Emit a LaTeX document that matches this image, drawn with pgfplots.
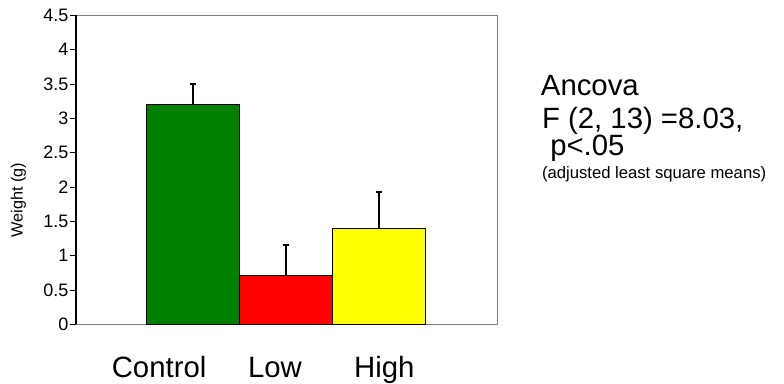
\documentclass[border=0pt]{standalone}
\usepackage{pgfplots}
\pgfplotsset{compat=1.18}
\usepackage{fontspec}
\setmainfont{Liberation Sans}
\definecolor{bargreen}{RGB}{0,128,0}
\definecolor{barred}{RGB}{255,0,0}
\definecolor{baryellow}{RGB}{255,255,0}
\begin{document}
\begin{tikzpicture}
\useasboundingbox (0,0) rectangle (588pt,287.25pt);
\begin{axis}[
  at={(57pt,44pt)}, anchor=south west, scale only axis,
  width=315.75pt, height=231.75pt,
  xmin=-1.253, xmax=3.272, ymin=0, ymax=4.5,
  ytick={0,0.5,1,1.5,2,2.5,3,3.5,4,4.5},
  ytick pos=left,
  yticklabel style={font=\fontsize{13.5}{15}\selectfont, /pgf/number format/assume math mode=true, inner sep=1pt},
  /pgf/number format/fixed,
  tick align=outside, major tick length=4.5pt,
  ytick style={black, line width=0.6pt},
  xtick={-0.36,0.885,2.06}, xticklabels={Control,Low,High},
  xtick style={draw=none},
  xticklabel style={font=\fontsize{22}{26}\selectfont, anchor=base, yshift=-35.5pt},
  axis line style={gray, line width=0.6pt},
  clip=false,
  error bars/y dir=plus,
  error bars/y explicit,
  error bars/error bar style={black, line width=1.5pt},
  error bars/error mark options={rotate=90, mark size=2.2pt, line width=1.5pt, black},
]
\draw[black, line width=0.8pt] (rel axis cs:0,0) -- (rel axis cs:0,1);
\addplot[ybar, bar width=1, bar shift=0pt, fill=bargreen, draw=black, line width=0.6pt,
  error bars/.cd, y dir=plus, y explicit]
  coordinates {(0,3.2) +- (0,0.3)};
\addplot[ybar, bar width=1, bar shift=0pt, fill=barred, draw=black, line width=0.6pt,
  error bars/.cd, y dir=plus, y explicit]
  coordinates {(1,0.71) +- (0,0.44)};
\addplot[ybar, bar width=1, bar shift=0pt, fill=baryellow, draw=black, line width=0.6pt,
  error bars/.cd, y dir=plus, y explicit]
  coordinates {(2,1.4) +- (0,0.52)};
\end{axis}
\node[rotate=90, font=\fontsize{12.2}{14}\selectfont, anchor=center] at (13.9pt,137.25pt) {Weight (g)};
\node[anchor=base west, inner sep=0, font=\fontsize{22}{24}\selectfont] at (405.5pt,216pt) {Ancova};
\node[anchor=base west, inner sep=0, font=\fontsize{22}{24}\selectfont] at (406.3pt,191.25pt) {F (2, 13) =8.03,};
\node[anchor=base west, inner sep=0, font=\fontsize{22}{24}\selectfont] at (412.5pt,171pt) {p<.05};
\node[anchor=base west, inner sep=0, font=\fontsize{12.5}{14}\selectfont] at (406.3pt,153.75pt) {(adjusted least square means)};
\end{tikzpicture}
\end{document}
